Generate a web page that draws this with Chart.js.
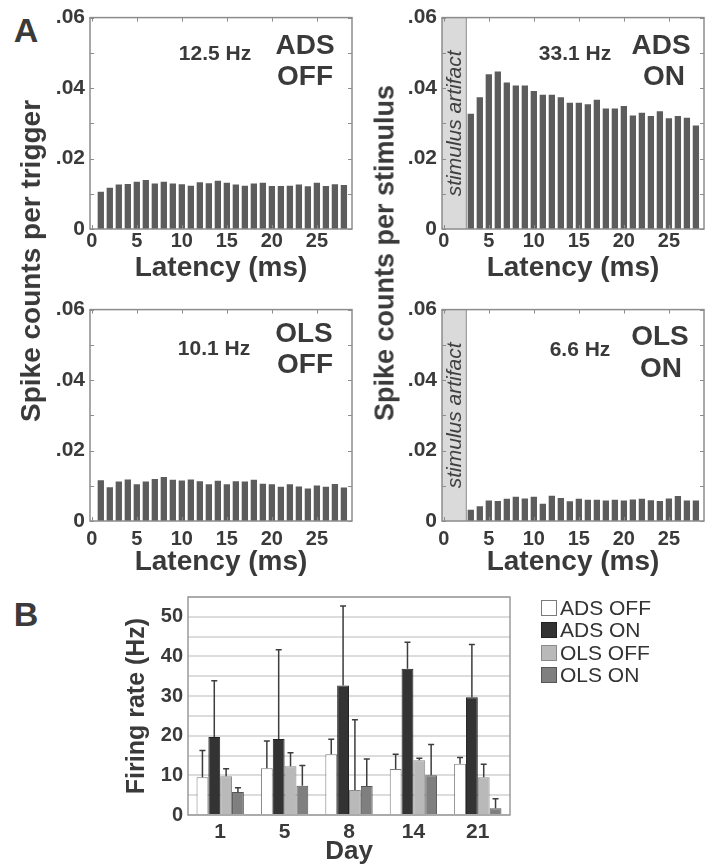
<!DOCTYPE html>
<html><head><meta charset="utf-8">
<script src="https://cdn.jsdelivr.net/npm/chart.js@4.4.1/dist/chart.umd.min.js"></script>
<style>
html,body{margin:0;padding:0;background:#fff;}
#page{position:relative;width:713px;height:867px;overflow:hidden;font-family:"Liberation Sans",Arial,Helvetica,sans-serif;color:#3a3a3a;}
canvas{position:absolute;}
.t{position:absolute;transform:translate(-50%,-50%);white-space:nowrap;font-weight:bold;line-height:1;}
.rot{transform:translate(-50%,-50%) rotate(-90deg);}
</style></head><body>
<div id="page">
  <canvas id="cAdsOff" width="320" height="292" style="left:40px;top:0px"></canvas>
  <canvas id="cAdsOn" width="320" height="292" style="left:392px;top:0px"></canvas>
  <canvas id="cOlsOff" width="320" height="288" style="left:40px;top:292px"></canvas>
  <canvas id="cOlsOn" width="320" height="288" style="left:392px;top:292px"></canvas>
  <canvas id="cRate" width="623" height="287" style="left:90px;top:580px"></canvas>

  <div class="t" style="left:26px;top:30px;font-size:34px">A</div>
  <div class="t" style="left:26px;top:614px;font-size:34px">B</div>
  <div class="t rot" style="left:31px;top:261px;font-size:28px">Spike counts per trigger</div>
  <div class="t rot" style="left:385px;top:253px;font-size:27px">Spike counts per stimulus</div>

  <div class="t" style="left:215px;top:52px;font-size:21px">12.5 Hz</div>
  <div class="t" style="left:305px;top:45px;font-size:28px">ADS</div>
  <div class="t" style="left:305px;top:76px;font-size:28px">OFF</div>

  <div class="t" style="left:575px;top:52px;font-size:21px">33.1 Hz</div>
  <div class="t" style="left:661px;top:45px;font-size:28px">ADS</div>
  <div class="t" style="left:664px;top:76px;font-size:28px">ON</div>

  <div class="t" style="left:214px;top:347px;font-size:21px">10.1 Hz</div>
  <div class="t" style="left:304px;top:333px;font-size:28px">OLS</div>
  <div class="t" style="left:305px;top:364px;font-size:28px">OFF</div>

  <div class="t" style="left:580px;top:348px;font-size:21px">6.6 Hz</div>
  <div class="t" style="left:660px;top:336px;font-size:28px">OLS</div>
  <div class="t" style="left:661px;top:368px;font-size:28px">ON</div>
</div>
<script>
// ---------- DATA ----------
const latencyAll = [1,2,3,4,5,6,7,8,9,10,11,12,13,14,15,16,17,18,19,20,21,22,23,24,25,26,27,28];
const latencyPost = [3,4,5,6,7,8,9,10,11,12,13,14,15,16,17,18,19,20,21,22,23,24,25,26,27,28];
const adsOffCounts = [0.0106,0.0117,0.0126,0.0128,0.0134,0.0139,0.0129,0.0134,0.0129,0.0127,0.0123,0.0133,0.0130,0.0137,0.0131,0.0126,0.0123,0.0129,0.0131,0.0122,0.0122,0.0123,0.0126,0.0121,0.0131,0.0122,0.0127,0.0125];
const adsOnCounts = [0.0327,0.0374,0.0439,0.0447,0.0416,0.0407,0.0407,0.0392,0.0381,0.0381,0.0374,0.0358,0.0358,0.0354,0.0367,0.0342,0.0342,0.0349,0.0322,0.0330,0.0321,0.0334,0.0314,0.0321,0.0316,0.0294];
const olsOffCounts = [0.0116,0.0096,0.0112,0.0118,0.0104,0.0112,0.0119,0.0125,0.0117,0.0115,0.0118,0.0113,0.0104,0.0114,0.0104,0.0113,0.0112,0.0117,0.0106,0.0104,0.0097,0.0104,0.0098,0.0092,0.0101,0.0097,0.0105,0.0095];
const olsOnCounts = [0.0032,0.0042,0.0058,0.0057,0.0063,0.0069,0.0064,0.0069,0.0049,0.0072,0.0065,0.0056,0.0063,0.0060,0.0060,0.0058,0.0060,0.0058,0.0061,0.0063,0.0059,0.0057,0.0064,0.0071,0.0058,0.0058];
const latencyTickValues = [0,5,10,15,20,25];
const countTickValues = [0,0.01,0.02,0.03,0.04,0.05,0.06];
const countTickLabels = ['0','','.02','','.04','','.06'];
const artifactEnd = 2.5;

const days = ['1','5','8','14','21'];
const seriesNames = ['ADS OFF','ADS ON','OLS OFF','OLS ON'];
const adsOffRate = [9.5,11.8,15.3,11.6,12.9];
const adsOnRate  = [19.7,19.2,32.7,36.9,29.7];
const olsOffRate = [9.8,12.3,6.3,13.8,9.5];
const olsOnRate  = [5.8,7.4,7.3,10.0,1.7];
const adsOffSD = [6.8,6.9,3.8,3.7,1.6];
const adsOnSD  = [14.2,22.5,20.0,6.7,13.3];
const olsOffSD = [1.9,3.4,17.7,0.5,3.3];
const olsOnSD  = [1.1,5.1,6.8,7.8,2.4];
const rateTickValues = [0,5,10,15,20,25,30,35,40,45,50,55];
const rateTickLabels = ['0','','10','','20','','30','','40','','50',''];

// ---------- STYLE ----------
const FONT = '"Liberation Sans", Arial, Helvetica, sans-serif';
const TXT = '#3a3a3a';
Chart.defaults.font.family = FONT;
Chart.defaults.color = TXT;

const boxPlugin = {
  id: 'mbox',
  afterDatasetsDraw(chart, args, opts) {
    const {ctx, chartArea: a, scales: {x, y}} = chart;
    ctx.save();
    ctx.strokeStyle = opts.color || '#8c8c8c';
    ctx.lineWidth = 1.5;
    ctx.strokeRect(a.left, a.top, a.right - a.left, a.bottom - a.top);
    if (opts.ticks) {
      const L = 4;
      ctx.lineWidth = 1;
      ctx.beginPath();
      y.ticks.forEach(t => {
        const py = Math.round(y.getPixelForValue(t.value)) + 0.5;
        ctx.moveTo(a.left, py); ctx.lineTo(a.left + L, py);
        ctx.moveTo(a.right, py); ctx.lineTo(a.right - L, py);
      });
      x.ticks.forEach(t => {
        const px = Math.round(x.getPixelForValue(t.value)) + 0.5;
        ctx.moveTo(px, a.top); ctx.lineTo(px, a.top + L);
        ctx.moveTo(px, a.bottom); ctx.lineTo(px, a.bottom - L);
      });
      ctx.stroke();
    }
    ctx.restore();
  }
};

const artifactPlugin = {
  id: 'artifact',
  beforeDatasetsDraw(chart, args, opts) {
    if (!opts || opts.end == null) return;
    const {ctx, chartArea: a, scales: {x}} = chart;
    const xr = x.getPixelForValue(opts.end);
    ctx.save();
    ctx.fillStyle = '#dadada';
    ctx.fillRect(a.left, a.top, xr - a.left, a.bottom - a.top);
    ctx.strokeStyle = '#8c8c8c'; ctx.lineWidth = 1;
    ctx.beginPath(); ctx.moveTo(xr, a.top); ctx.lineTo(xr, a.bottom); ctx.stroke();
    ctx.translate((a.left + xr) / 2 + 1, (a.top + a.bottom) / 2);
    ctx.rotate(-Math.PI / 2);
    ctx.font = 'italic 21px ' + FONT;
    ctx.fillStyle = '#404040';
    ctx.textAlign = 'center'; ctx.textBaseline = 'middle';
    ctx.fillText(opts.text, 0, 0);
    ctx.restore();
  }
};

function makeHist(id, xs, ys, cfg) {
  const pts = xs.map((v, i) => ({x: v, y: ys[i]}));
  return new Chart(document.getElementById(id), {
    type: 'bar',
    data: {datasets: [{data: pts, backgroundColor: '#5c5c5c', borderWidth: 0,
      barPercentage: 0.7, categoryPercentage: 1.0}]},
    options: {
      responsive: false, animation: false,
      layout: {autoPadding: false, padding: {left: 0, right: 8, top: 15, bottom: 0}},
      plugins: {
        legend: {display: false}, tooltip: {enabled: false},
        mbox: {ticks: true},
        artifact: cfg.artifact ? {end: artifactEnd, text: 'stimulus artifact'} : {}
      },
      scales: {
        x: {
          type: 'linear', min: -0.2, max: 28.9, offset: false,
          grid: {display: false, drawTicks: false}, border: {display: false},
          afterBuildTicks: s => { s.ticks = latencyTickValues.map(v => ({value: v})); },
          ticks: {padding: cfg.tickPad, color: TXT, font: {size: 20, weight: 'bold'},
            maxRotation: 0, autoSkip: false, callback: v => String(v)},
          title: {display: true, text: 'Latency (ms)', color: TXT,
            font: {size: 28, weight: 'bold'}, padding: {top: 0, bottom: cfg.titlePad}},
          afterFit: s => { s.height = cfg.xh; }
        },
        y: {
          min: 0, max: 0.06,
          grid: {display: false, drawTicks: false}, border: {display: false},
          afterBuildTicks: s => { s.ticks = countTickValues.map(v => ({value: v})); },
          ticks: {padding: 5, color: TXT, font: {size: 21, weight: 'bold'}, autoSkip: false,
            callback: (v, i) => countTickLabels[i]},
          afterFit: s => { s.width = 50; }
        }
      }
    },
    plugins: [artifactPlugin, boxPlugin]
  });
}

makeHist('cAdsOff', latencyAll, adsOffCounts, {artifact: false, tickPad: 0, xh: 63, titlePad: 7});
makeHist('cAdsOn', latencyPost, adsOnCounts, {artifact: true, tickPad: 0, xh: 63, titlePad: 7});
makeHist('cOlsOff', latencyAll, olsOffCounts, {artifact: false, tickPad: 6, xh: 59, titlePad: 1});
makeHist('cOlsOn', latencyPost, olsOnCounts, {artifact: true, tickPad: 6, xh: 59, titlePad: 1});

// ---------- PANEL B ----------
const errorBarPlugin = {
  id: 'errbars',
  afterDatasetsDraw(chart) {
    const {ctx, scales: {y}} = chart;
    ctx.save();
    ctx.strokeStyle = '#3d3d3d'; ctx.lineWidth = 1.5;
    chart.data.datasets.forEach((ds, di) => {
      const meta = chart.getDatasetMeta(di);
      meta.data.forEach((el, j) => {
        const top = y.getPixelForValue(ds.data[j] + ds.sd[j]);
        ctx.beginPath();
        ctx.moveTo(el.x, el.y); ctx.lineTo(el.x, top);
        ctx.moveTo(el.x - 3, top); ctx.lineTo(el.x + 3, top);
        ctx.stroke();
      });
    });
    ctx.restore();
  }
};

const sideLegendPlugin = {
  id: 'sideLegend',
  afterDraw(chart, args, opts) {
    const {ctx, chartArea: a} = chart;
    ctx.save();
    chart.data.datasets.forEach((ds, i) => {
      const bx = Math.round(a.right + opts.dx), cy = Math.round(a.top + opts.dy + i * opts.rowH);
      ctx.fillStyle = ds.backgroundColor;
      ctx.fillRect(bx, cy - 8, 16, 16);
      ctx.strokeStyle = ds.borderColor; ctx.lineWidth = 1;
      ctx.strokeRect(bx + 0.5, cy - 7.5, 15, 15);
      ctx.fillStyle = '#333';
      ctx.font = '21px ' + FONT;
      ctx.textAlign = 'left'; ctx.textBaseline = 'middle';
      ctx.fillText(ds.label, bx + 19, cy + 1);
    });
    ctx.restore();
  }
};

new Chart(document.getElementById('cRate'), {
  type: 'bar',
  data: {
    labels: days,
    datasets: [
      {label: seriesNames[0], data: adsOffRate, sd: adsOffSD, backgroundColor: '#ffffff', borderColor: '#7a7a7a'},
      {label: seriesNames[1], data: adsOnRate, sd: adsOnSD, backgroundColor: '#333333', borderColor: '#222222'},
      {label: seriesNames[2], data: olsOffRate, sd: olsOffSD, backgroundColor: '#b9b9b9', borderColor: '#8a8a8a'},
      {label: seriesNames[3], data: olsOnRate, sd: olsOnSD, backgroundColor: '#7f7f7f', borderColor: '#555555'}
    ].map(d => Object.assign(d, {borderWidth: 1, barPercentage: 1.0, categoryPercentage: 0.735}))
  },
  options: {
    responsive: false, animation: false,
    layout: {autoPadding: false, padding: {left: 0, right: 203, top: 16, bottom: 0}},
    plugins: {
      legend: {display: false}, tooltip: {enabled: false},
      mbox: {ticks: false, color: '#9a9a9a'},
      sideLegend: {dx: 31, dy: 11, rowH: 22.3}
    },
    scales: {
      x: {
        grid: {display: false, drawTicks: false}, border: {display: false},
        ticks: {padding: 5, color: TXT, font: {size: 21, weight: 'bold'}, maxRotation: 0},
        title: {display: true, text: 'Day', color: TXT, font: {size: 26, weight: 'bold'}, padding: {top: 0, bottom: 0}},
        afterFit: s => { s.height = 52; }
      },
      y: {
        min: 0, max: 55,
        grid: {color: '#dcdcdc', lineWidth: 2, drawTicks: false}, border: {display: false},
        afterBuildTicks: s => { s.ticks = rateTickValues.map(v => ({value: v})); },
        ticks: {padding: 5, color: TXT, font: {size: 20, weight: 'bold'}, autoSkip: false,
          callback: (v, i) => rateTickLabels[i]},
        title: {display: true, text: 'Firing rate (Hz)', color: TXT, font: {size: 25, weight: 'bold'}, padding: {top: 32, bottom: 0}},
        afterFit: s => { s.width = 98; }
      }
    }
  },
  plugins: [errorBarPlugin, boxPlugin, sideLegendPlugin]
});
</script>
</body></html>
